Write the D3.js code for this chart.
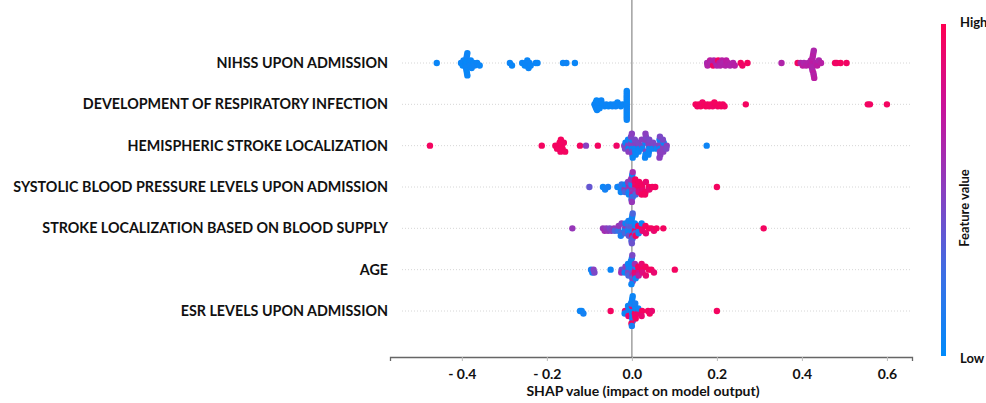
<!DOCTYPE html>
<html>
<head>
<meta charset="utf-8">
<script src="https://cdn.jsdelivr.net/npm/d3@7"></script>
<style>
body{margin:0;background:#fff;}
svg text{font-family:Lato,"Open Sans",sans-serif;font-weight:bold;fill:#111;}
</style>
</head>
<body>
<div id="chart"></div>
<script>
//---------------------------- DATA ----------------------------//
const featureNames = [
  "NIHSS UPON ADMISSION",
  "DEVELOPMENT OF RESPIRATORY INFECTION",
  "HEMISPHERIC STROKE LOCALIZATION",
  "SYSTOLIC BLOOD PRESSURE LEVELS UPON ADMISSION",
  "STROKE LOCALIZATION BASED ON BLOOD SUPPLY",
  "AGE",
  "ESR LEVELS UPON ADMISSION"
];
const xTicks = [-0.4, -0.2, 0, 0.2, 0.4, 0.6];
const xTickLabels = ["- 0.4", "- 0.2", "0.0", "0.2", "0.4", "0.6"];

// [shap value, feature value 0..1]
const nihss = [
  [-0.459,0.04],
  [-0.402,0.05],[-0.398,0.03],[-0.396,0.06],
  [-0.392,0.04],[-0.391,0.05],[-0.390,0.03],[-0.390,0.06],[-0.389,0.04],[-0.389,0.05],[-0.388,0.07],[-0.388,0.03],[-0.387,0.05],[-0.387,0.04],
  [-0.382,0.05],[-0.380,0.06],[-0.379,0.04],[-0.377,0.05],[-0.372,0.04],[-0.370,0.06],[-0.364,0.05],[-0.358,0.04],
  [-0.287,0.05],[-0.282,0.04],
  [-0.258,0.05],[-0.252,0.03],[-0.249,0.06],[-0.247,0.05],[-0.246,0.04],[-0.243,0.05],[-0.241,0.06],[-0.238,0.04],
  [-0.226,0.05],[-0.222,0.04],
  [-0.162,0.05],[-0.154,0.06],[-0.134,0.04],
  [0.177,0.62],[0.178,0.66],[0.184,0.70],[0.186,0.64],[0.191,0.93],[0.193,0.66],[0.198,0.68],[0.200,0.64],[0.203,0.95],[0.206,0.70],[0.208,0.66],
  [0.212,0.68],[0.215,0.64],[0.220,0.66],[0.222,0.70],[0.226,0.68],[0.231,0.65],[0.238,0.66],[0.242,0.68],[0.256,0.95],[0.260,0.93],[0.272,0.95],
  [0.352,0.65],
  [0.390,0.95],[0.397,0.66],[0.402,0.70],[0.405,0.64],[0.410,0.68],[0.415,0.66],
  [0.420,0.70],[0.421,0.64],[0.423,0.68],[0.423,0.66],[0.424,0.70],[0.424,0.65],[0.425,0.68],[0.425,0.64],[0.426,0.66],[0.427,0.70],[0.427,0.68],[0.428,0.66],[0.428,0.64],[0.429,0.69],
  [0.433,0.66],[0.436,0.70],[0.440,0.64],[0.445,0.68],
  [0.478,0.95],[0.482,0.93],[0.491,0.95],[0.505,0.94]
];
const respInfection = [
  [-0.088,0.05],[-0.086,0.04],[-0.085,0.06],[-0.084,0.05],[-0.083,0.03],[-0.082,0.05],[-0.080,0.04],[-0.079,0.06],[-0.078,0.05],[-0.076,0.04],
  [-0.072,0.05],[-0.068,0.04],[-0.064,0.05],[-0.060,0.06],[-0.055,0.04],[-0.050,0.05],[-0.046,0.04],[-0.042,0.05],[-0.038,0.06],[-0.034,0.04],[-0.030,0.05],[-0.026,0.04],[-0.022,0.05],
  [-0.012,0.05],[-0.012,0.04],[-0.012,0.06],[-0.012,0.05],[-0.012,0.03],[-0.012,0.05],[-0.012,0.04],[-0.012,0.06],
  [-0.012,0.05],[-0.012,0.04],[-0.012,0.05],[-0.012,0.03],[-0.012,0.06],[-0.012,0.05],[-0.012,0.04],[-0.012,0.05],
  [0.150,0.95],[0.154,0.94],[0.158,0.96],[0.162,0.95],[0.166,0.93],[0.170,0.95],[0.174,0.96],[0.178,0.94],[0.182,0.95],
  [0.186,0.95],[0.190,0.93],[0.194,0.96],[0.198,0.95],[0.202,0.94],[0.206,0.95],[0.210,0.96],[0.214,0.95],[0.218,0.94],
  [0.268,0.95],[0.555,0.95],[0.560,0.94],[0.600,0.95]
];
const hemispheric = [
  [-0.475,0.95],[-0.212,0.95],
  [-0.180,0.95],[-0.176,0.94],[-0.173,0.96],[-0.171,0.95],[-0.170,0.95],[-0.168,0.94],[-0.167,0.96],[-0.165,0.95],[-0.163,0.95],[-0.160,0.94],[-0.157,0.95],
  [-0.122,0.95],[-0.108,0.5],[-0.080,0.95],[-0.036,0.93],
  [-0.018,0.5],[-0.016,0.45],[-0.015,0.05],
  [-0.009,0.5],[-0.008,0.05],[-0.007,0.45],[-0.008,0.5],[-0.009,0.05],
  [0.000,0.45],[0.001,0.05],[-0.001,0.5],[0.002,0.45],[0.000,0.05],[0.001,0.5],[-0.002,0.45],[0.002,0.05],[0.000,0.5],
  [0.008,0.45],[0.007,0.05],[0.009,0.5],[0.008,0.05],[0.007,0.45],[0.009,0.05],
  [0.016,0.5],[0.017,0.05],[0.015,0.45],[0.016,0.05],
  [0.024,0.45],[0.025,0.05],[0.023,0.5],
  [0.032,0.05],[0.033,0.45],[0.031,0.5],[0.032,0.05],[0.033,0.45],[0.031,0.05],[0.032,0.5],
  [0.040,0.45],[0.041,0.05],[0.039,0.5],[0.040,0.05],[0.041,0.45],[0.039,0.05],
  [0.049,0.5],[0.048,0.05],[0.050,0.45],
  [0.057,0.45],[0.058,0.05],
  [0.065,0.5],[0.066,0.05],[0.067,0.45],[0.066,0.5],[0.065,0.05],[0.067,0.5],[0.066,0.45],[0.065,0.5],
  [0.074,0.45],[0.073,0.5],[0.075,0.05],[0.074,0.5],[0.073,0.45],
  [0.082,0.5],[0.081,0.45],
  [0.176,0.05]
];
const systolic = [
  [-0.100,0.38],[-0.068,0.05],[-0.063,0.08],[-0.056,0.1],
  [-0.034,0.1],[-0.032,0.05],
  [-0.025,0.08],[-0.024,0.2],[-0.026,0.05],
  [-0.016,0.1],[-0.017,0.55],[-0.015,0.05],[-0.016,0.3],
  [-0.008,0.05],[-0.009,0.55],[-0.007,0.6],[-0.008,0.1],[-0.009,0.5],[-0.007,0.05],
  [0.000,0.55],[0.001,0.6],[-0.001,0.1],[0.002,0.5],[0.000,0.05],[0.001,0.65],[-0.002,0.55],[0.002,0.1],[0.000,0.6],[-0.001,0.3],[0.001,0.05],[0.000,0.55],[0.002,0.6],
  [0.008,0.9],[0.007,0.6],[0.009,0.95],[0.008,0.55],[0.007,0.9],[0.009,0.3],[0.008,0.95],
  [0.016,0.95],[0.017,0.9],[0.015,0.95],[0.016,0.85],[0.017,0.95],
  [0.024,0.95],[0.025,0.9],[0.023,0.95],[0.024,0.95],
  [0.032,0.95],[0.033,0.9],[0.031,0.95],
  [0.040,0.95],[0.041,0.9],[0.048,0.95],[0.055,0.95],
  [0.200,0.95]
];
const strokeSupply = [
  [-0.140,0.55],
  [-0.068,0.55],[-0.064,0.6],[-0.060,0.5],[-0.056,0.55],[-0.052,0.45],[-0.048,0.5],
  [-0.042,0.55],[-0.040,0.3],
  [-0.033,0.5],[-0.032,0.2],[-0.031,0.55],
  [-0.025,0.3],[-0.024,0.5],[-0.026,0.1],
  [-0.016,0.35],[-0.017,0.1],[-0.015,0.55],[-0.016,0.3],[-0.015,0.05],
  [-0.008,0.3],[-0.009,0.1],[-0.007,0.35],[-0.008,0.05],[-0.009,0.3],[-0.007,0.4],[-0.008,0.1],
  [0.000,0.3],[0.001,0.05],[-0.001,0.35],[0.002,0.1],[0.000,0.3],[0.001,0.9],[-0.002,0.05],[0.002,0.35],[0.000,0.1],[-0.001,0.3],[0.001,0.05],[0.000,0.4],[0.002,0.3],
  [0.008,0.05],[0.007,0.9],[0.009,0.1],[0.008,0.3],[0.007,0.05],[0.009,0.95],
  [0.016,0.9],[0.017,0.05],[0.015,0.95],[0.016,0.1],
  [0.024,0.95],[0.025,0.9],[0.023,0.05],
  [0.032,0.95],[0.033,0.9],
  [0.040,0.95],[0.046,0.95],[0.052,0.9],[0.058,0.95],[0.074,0.95],
  [0.310,0.95]
];
const age = [
  [-0.096,0.1],[-0.093,0.05],[-0.090,0.5],[-0.088,0.45],
  [-0.050,0.05],
  [-0.024,0.4],[-0.025,0.6],
  [-0.016,0.3],[-0.017,0.05],[-0.015,0.5],
  [-0.008,0.05],[-0.009,0.45],[-0.007,0.1],[-0.008,0.3],[-0.009,0.05],
  [0.000,0.05],[0.001,0.45],[-0.001,0.1],[0.002,0.6],[0.000,0.05],[0.001,0.3],[-0.002,0.05],[0.002,0.5],[0.000,0.1],[-0.001,0.05],[0.001,0.45],
  [0.008,0.7],[0.007,0.9],[0.009,0.1],[0.008,0.85],[0.007,0.6],[0.009,0.05],
  [0.016,0.9],[0.017,0.8],[0.015,0.95],[0.016,0.7],
  [0.024,0.95],[0.025,0.85],[0.023,0.9],
  [0.032,0.95],[0.033,0.9],
  [0.040,0.95],[0.046,0.95],[0.052,0.9],
  [0.101,0.95]
];
const esr = [
  [-0.122,0.05],[-0.118,0.05],[-0.114,0.08],
  [-0.050,0.95],
  [-0.016,0.9],[-0.017,0.05],
  [-0.008,0.05],[-0.009,0.1],[-0.007,0.05],[-0.008,0.9],[-0.009,0.05],
  [0.000,0.05],[0.001,0.1],[-0.001,0.05],[0.002,0.05],[0.000,0.9],[0.001,0.05],[-0.002,0.1],[0.002,0.05],[0.000,0.05],[-0.001,0.95],[0.001,0.05],[0.000,0.1],[0.002,0.05],
  [0.008,0.05],[0.007,0.95],[0.009,0.05],[0.008,0.9],[0.007,0.05],[0.009,0.95],[0.008,0.1],
  [0.016,0.95],[0.017,0.9],[0.015,0.05],
  [0.024,0.95],[0.023,0.9],
  [0.038,0.95],[0.042,0.95],[0.047,0.9],
  [0.200,0.95]
];
const rows = [nihss, respInfection, hemispheric, systolic, strokeSupply, age, esr];

//------------------------- SETUP ------------------------------//
const width = 986, height = 403;
const svg = d3.select("#chart").append("svg")
    .attr("width", width).attr("height", height);

const xScale = d3.scaleLinear().domain([-0.569, 0.659]).range([390, 912]);
const yScale = d3.scalePoint().domain(featureNames).range([63, 311]);
const rowStep = yScale.step();
const color = d3.scaleLinear()
    .domain([0, 0.25, 0.5, 0.75, 1])
    .range(["#008bfb", "#3d6ee4", "#8a3fc0", "#c8129a", "#ff0052"]);

// beeswarm layering, same idea as shap
function swarm(points){
    const binW = 0.0095;
    const items = points.map((p, i) => ({v: p[0], f: p[1], bin: Math.round(p[0] / binW), i: i}));
    const sorted = items.slice().sort((a, b) => a.bin - b.bin || a.i - b.i);
    let layer = 0, last = null;
    sorted.forEach(d => {
        if (d.bin !== last) layer = 0;
        d.layer = Math.ceil(layer / 2) * ((layer % 2) * 2 - 1);
        layer++;
        last = d.bin;
    });
    const maxL = d3.max(items, d => d.layer);
    const k = Math.min(3, 0.42 * rowStep / (maxL + 1));
    items.forEach(d => d.dy = d.layer * k);
    return items;
}

//------------------------- DRAWING ----------------------------//
// faint row guides
svg.append("g").selectAll("line")
    .data(featureNames).enter().append("line")
    .attr("x1", xScale.range()[0] + 12).attr("x2", xScale.range()[1])
    .attr("y1", d => yScale(d)).attr("y2", d => yScale(d))
    .attr("stroke", "#d6d6d6").attr("stroke-width", 1)
    .attr("stroke-dasharray", "1,2");

// zero line
svg.append("line")
    .attr("x1", xScale(0)).attr("x2", xScale(0))
    .attr("y1", 0).attr("y2", 357)
    .attr("stroke", "#999").attr("stroke-width", 1.4);

// dots
rows.forEach((pts, r) => {
    const yc = yScale(featureNames[r]);
    svg.append("g").selectAll("circle")
        .data(swarm(pts)).enter().append("circle")
        .attr("cx", d => xScale(d.v))
        .attr("cy", d => yc + d.dy)
        .attr("r", 3.2)
        .attr("fill", d => color(d.f));
});

// feature labels
const labels = svg.append("g").selectAll("text")
    .data(featureNames).enter().append("text")
    .attr("x", 388).attr("y", d => yScale(d))
    .attr("dy", "0.35em")
    .attr("text-anchor", "end")
    .style("font-size", "13px")
    .text(d => d);
// fit longest label to the width it has in the picture
const longest = d3.max(labels.nodes(), n => n.getComputedTextLength());
labels.style("font-size", (13 * 375 / longest).toFixed(2) + "px");

// x axis
const xAxis = d3.axisBottom(xScale)
    .tickValues(xTicks)
    .tickFormat((d, i) => xTickLabels[i])
    .tickSize(4).tickPadding(8);
const gx = svg.append("g")
    .attr("transform", "translate(0,357)")
    .call(xAxis);
gx.select(".domain").attr("stroke", "#666").attr("stroke-width", 1.3);
gx.selectAll(".tick line").attr("stroke", "#bbb");
gx.selectAll(".tick text")
    .style("font-family", "Lato, 'Open Sans', sans-serif")
    .style("font-weight", "bold")
    .style("font-size", "14px")
    .attr("fill", "#111");

svg.append("text")
    .attr("x", 643).attr("y", 396)
    .attr("text-anchor", "middle")
    .style("font-size", "14px")
    .text("SHAP value (impact on model output)");

// colour bar
const grad = svg.append("defs").append("linearGradient")
    .attr("id", "fvgrad")
    .attr("x1", 0).attr("y1", 1).attr("x2", 0).attr("y2", 0);
d3.range(0, 1.0001, 0.05).forEach(t => {
    grad.append("stop").attr("offset", t).attr("stop-color", color(t));
});
svg.append("rect")
    .attr("x", 941).attr("y", 24)
    .attr("width", 5).attr("height", 332)
    .attr("fill", "url(#fvgrad)");
svg.append("text").attr("x", 960).attr("y", 27)
    .style("font-size", "13px").text("High");
svg.append("text").attr("x", 960).attr("y", 363)
    .style("font-size", "13px").text("Low");
svg.append("text")
    .attr("transform", "translate(969,208) rotate(-90)")
    .attr("text-anchor", "middle")
    .style("font-size", "13px")
    .text("Feature value");
</script>
</body>
</html>
